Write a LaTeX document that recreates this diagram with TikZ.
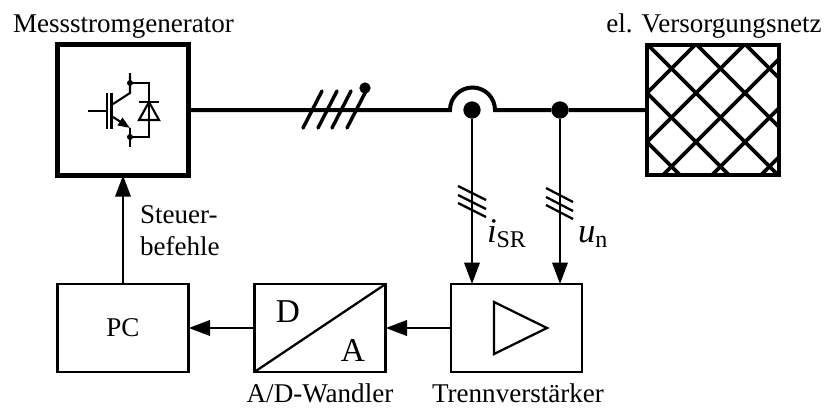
\documentclass[tikz,border=0pt]{standalone}
\usepackage{fontspec}
\setmainfont{Liberation Serif}
\usetikzlibrary{arrows.meta}
\newcommand{\lowsub}[1]{\raisebox{-3.75pt}{\fontsize{18}{20}\selectfont #1}}
\begin{document}
\begin{tikzpicture}[
    x=0.75pt,y=-0.75pt,
    every node/.style={font=\fontsize{20.3}{24}\selectfont, inner sep=0pt, outer sep=0pt},
    block/.style={draw=black, line width=1.9pt, fill=white, minimum width=98.5pt, minimum height=66pt, align=center},
    heavy/.style={block, line width=3.4pt, minimum height=98pt},
    net/.style={block, line width=3pt, minimum height=98pt},
    bus/.style={line width=3pt},
    hatch/.style={line width=2.8pt},
    link/.style={line width=1.9pt, -{Triangle[length=16pt,width=11.5pt]}},
    tick/.style={line width=1.7pt},
    slash/.style={line width=2.6pt, line cap=round},
    dev/.style={line width=1.6pt},
    dot/.style={circle, fill=black, minimum size=13pt},
    caption/.style={anchor=base},
    bigtext/.style={font=\fontsize{25}{28}\selectfont},
    value/.style={font=\fontsize{26}{28}\selectfont, anchor=base west}
]
    \useasboundingbox (0,0) rectangle (828,408);

    % boxes
    \node[heavy] (gen) at (123,110) {};
    \node[net] (netz) at (713,110) {};
    \node[block] (pc) at (123,328) {PC};
    \node[block] (wandler) at (320,328) {};
    \node[block] (trenn) at (516.5,328) {};

    % labels
    \node[caption] (genlabel) at (123.5,32) {Messstromgenerator};
    \node[caption] (netzlabel) at (714,32) {el. Versorgungsnetz};
    \node[align=left, anchor=west] (cmdlabel) at (140,231) {Steuer-\\befehle};
    \node[caption] (wandlerlabel) at (320,402) {A/D-Wandler};
    \node[caption] (trennlabel) at (518,402) {Trennverstärker};
    \node[value] (ilabel) at (487,242) {\textit{i}\lowsub{SR}};
    \node[value] (ulabel) at (578,242) {\textit{u}\lowsub{n}};
    \node[bigtext] (dlabel) at (288,312) {D};
    \node[bigtext] (alabel) at (353,350) {A};

    % hatching of the grid
    \begin{scope}
        \clip (netz.north west) rectangle (netz.south east);
        \foreach \c in {505,554,603,652,701}
            \draw[hatch] (\c+20,20) -- (\c+200,200);
        \foreach \c in {740,789,838,887,936}
            \draw[hatch] (\c-20,20) -- (\c-200,200);
    \end{scope}
    \node[net, fill=none] (netzframe) at (713,110) {};

    % main line with hop
    \coordinate (hopL) at (450,110);
    \coordinate (hopR) at (495,110);
    \node[dot] (ji) at (472,110) {};
    \node[dot] (ju) at (560,110) {};
    \draw[bus] (gen.east) -- (hopL) arc[start angle=180, end angle=360, radius=22.5] -- (ju) -- (netz.west);

    % slashes
    \foreach \x in {303,318,332,347}
        \draw[slash] (\x,128) -- (\x+19,91);
    \node[dot, minimum size=8.5pt] (slashdot) at (365,88) {};

    % signal lines
    \draw[link] (ji) -- (ji |- trenn.north);
    \draw[link] (ju) -- (ju |- trenn.north);
    \draw[link] (trenn) -- (wandler.east);
    \draw[link] (wandler) -- (pc.east);
    \draw[link] (pc) -- (gen.south);
    \foreach \y in {186,195,203} {
        \draw[tick] (458,\y) -- (486,\y+14);
        \draw[tick] (546,\y+2) -- (573,\y+16);
    }

    % amplifier and converter
    \draw[line width=1.7pt] (494,302) -- (547,328) -- (494,354) -- cycle;
    \draw[line width=1.7pt] (wandler.south west) -- (wandler.north east);

    % transistor and diode
    \draw[dev] (88,111) -- (107,111);
    \draw[dev] (107,93) -- (107,129);
    \draw[dev] (111.5,93) -- (111.5,129);
    \draw[dev] (113,104) -- (130,93) -- (130,73);
    \draw[dev, -{Triangle[length=9pt,width=6.5pt]}] (113,117) -- (130,128);
    \draw[dev] (130,128) -- (130,147);
    \draw[dev] (130,83) -- (149,83) -- (149,137) -- (130,137);
    \draw[dev] (139,102) -- (159,102);
    \draw[dev] (139,120) -- (159,120) -- (149,102) -- cycle;
    \node[dot, minimum size=4.5pt] (collector) at (130,83) {};
    \node[dot, minimum size=4.5pt] (emitter) at (130,137) {};
\end{tikzpicture}
\end{document}
